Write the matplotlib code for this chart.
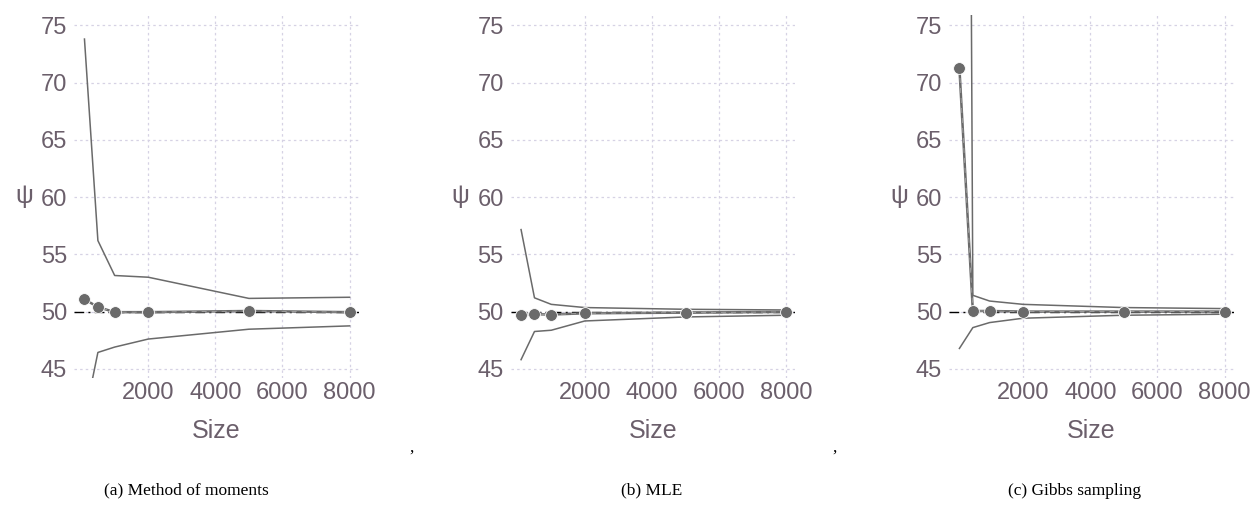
import matplotlib
matplotlib.use("Agg")
import matplotlib.pyplot as plt

plt.rcParams['font.family'] = ['Liberation Sans', 'DejaVu Sans']

# Sample sizes shared by all three estimators
sizes = [100, 500, 1000, 2000, 5000, 8000]
true_psi = 50

# Method of moments
mom_mean = [51.07, 50.40, 49.95, 49.95, 50.05, 49.95]
mom_upper = [73.8, 56.2, 53.15, 53.0, 51.15, 51.25]
mom_lower = [40.7, 46.43, 46.9, 47.6, 48.46, 48.75]

# Maximum likelihood
mle_mean = [49.68, 49.77, 49.74, 49.85, 49.91, 49.97]
mle_upper = [57.16, 51.2, 50.63, 50.35, 50.2, 50.14]
mle_lower = [45.8, 48.26, 48.37, 49.18, 49.53, 49.68]

# Gibbs sampling
gibbs_mean = [71.27, 50.05, 50.05, 50.0, 50.0, 50.0]
gibbs_upper = [280.0, 51.42, 50.92, 50.63, 50.35, 50.26]
gibbs_lower = [46.78, 48.6, 49.04, 49.42, 49.68, 49.77]

captions = ["(a) Method of moments", "(b) MLE", "(c) Gibbs sampling"]
y_ticks = [45, 50, 55, 60, 65, 70, 75]
x_ticks = [2000, 4000, 6000, 8000]

panels = [
    (mom_mean, mom_upper, mom_lower),
    (mle_mean, mle_upper, mle_lower),
    (gibbs_mean, gibbs_upper, gibbs_lower),
]

text_color = "#6b5f6b"
line_color = "#6a6a6a"
grid_color = "#d6d2e4"

fig = plt.figure(figsize=(12.51, 5.21), dpi=100)
lefts = [0.0592, 0.4082, 0.7586]
W, B, H = 0.2275, 0.2745, 0.6967
cap_x = [0.149, 0.521, 0.859]

for i, (mean, upper, lower) in enumerate(panels):
    ax = fig.add_axes([lefts[i], B, W, H])
    ax.set_xlim(-210, 8270)
    ax.set_ylim(44.2, 75.9)
    ax.set_yticks(y_ticks)
    ax.set_xticks(x_ticks)
    for s in ax.spines.values():
        s.set_visible(False)
    ax.grid(True, color=grid_color, linestyle=(0, (2, 2.5)), linewidth=0.9)
    ax.set_axisbelow(True)
    ax.tick_params(length=0, labelsize=17, labelcolor=text_color, pad=5)
    ax.tick_params(axis='x', pad=3)

    ax.axhline(true_psi, color="black", linewidth=1.0,
               linestyle=(0, (7, 3, 1.5, 3)), zorder=2)
    ax.plot(sizes, upper, color=line_color, linewidth=1.1, zorder=3)
    ax.plot(sizes, lower, color=line_color, linewidth=1.1, zorder=3)
    ax.plot(sizes, mean, color=line_color, linewidth=1.8, zorder=3)
    ax.plot(sizes, mean, color="white", linewidth=0.6, alpha=0.4,
            linestyle=(0, (6, 6)), zorder=3)
    ax.plot(sizes, mean, linestyle="none", marker="o", markersize=8.5,
            markerfacecolor=line_color, markeredgecolor="white",
            markeredgewidth=0.6, zorder=4)

    ax.set_xlabel("Size", fontsize=18, color=text_color, labelpad=11)
    ax.set_ylabel("ψ", fontsize=18, color=text_color, rotation=0,
                  labelpad=12, va="center")

    fig.text(cap_x[i], 0.058, captions[i], ha="center", va="center",
             fontsize=12.5, family="Liberation Serif", color="black")

for x in (412 / 1251, 835 / 1251):
    fig.text(x, 0.14, ",", ha="center", va="center", fontsize=12.5,
             family="Liberation Serif", color="black")

fig.savefig("out.png", dpi=100)
